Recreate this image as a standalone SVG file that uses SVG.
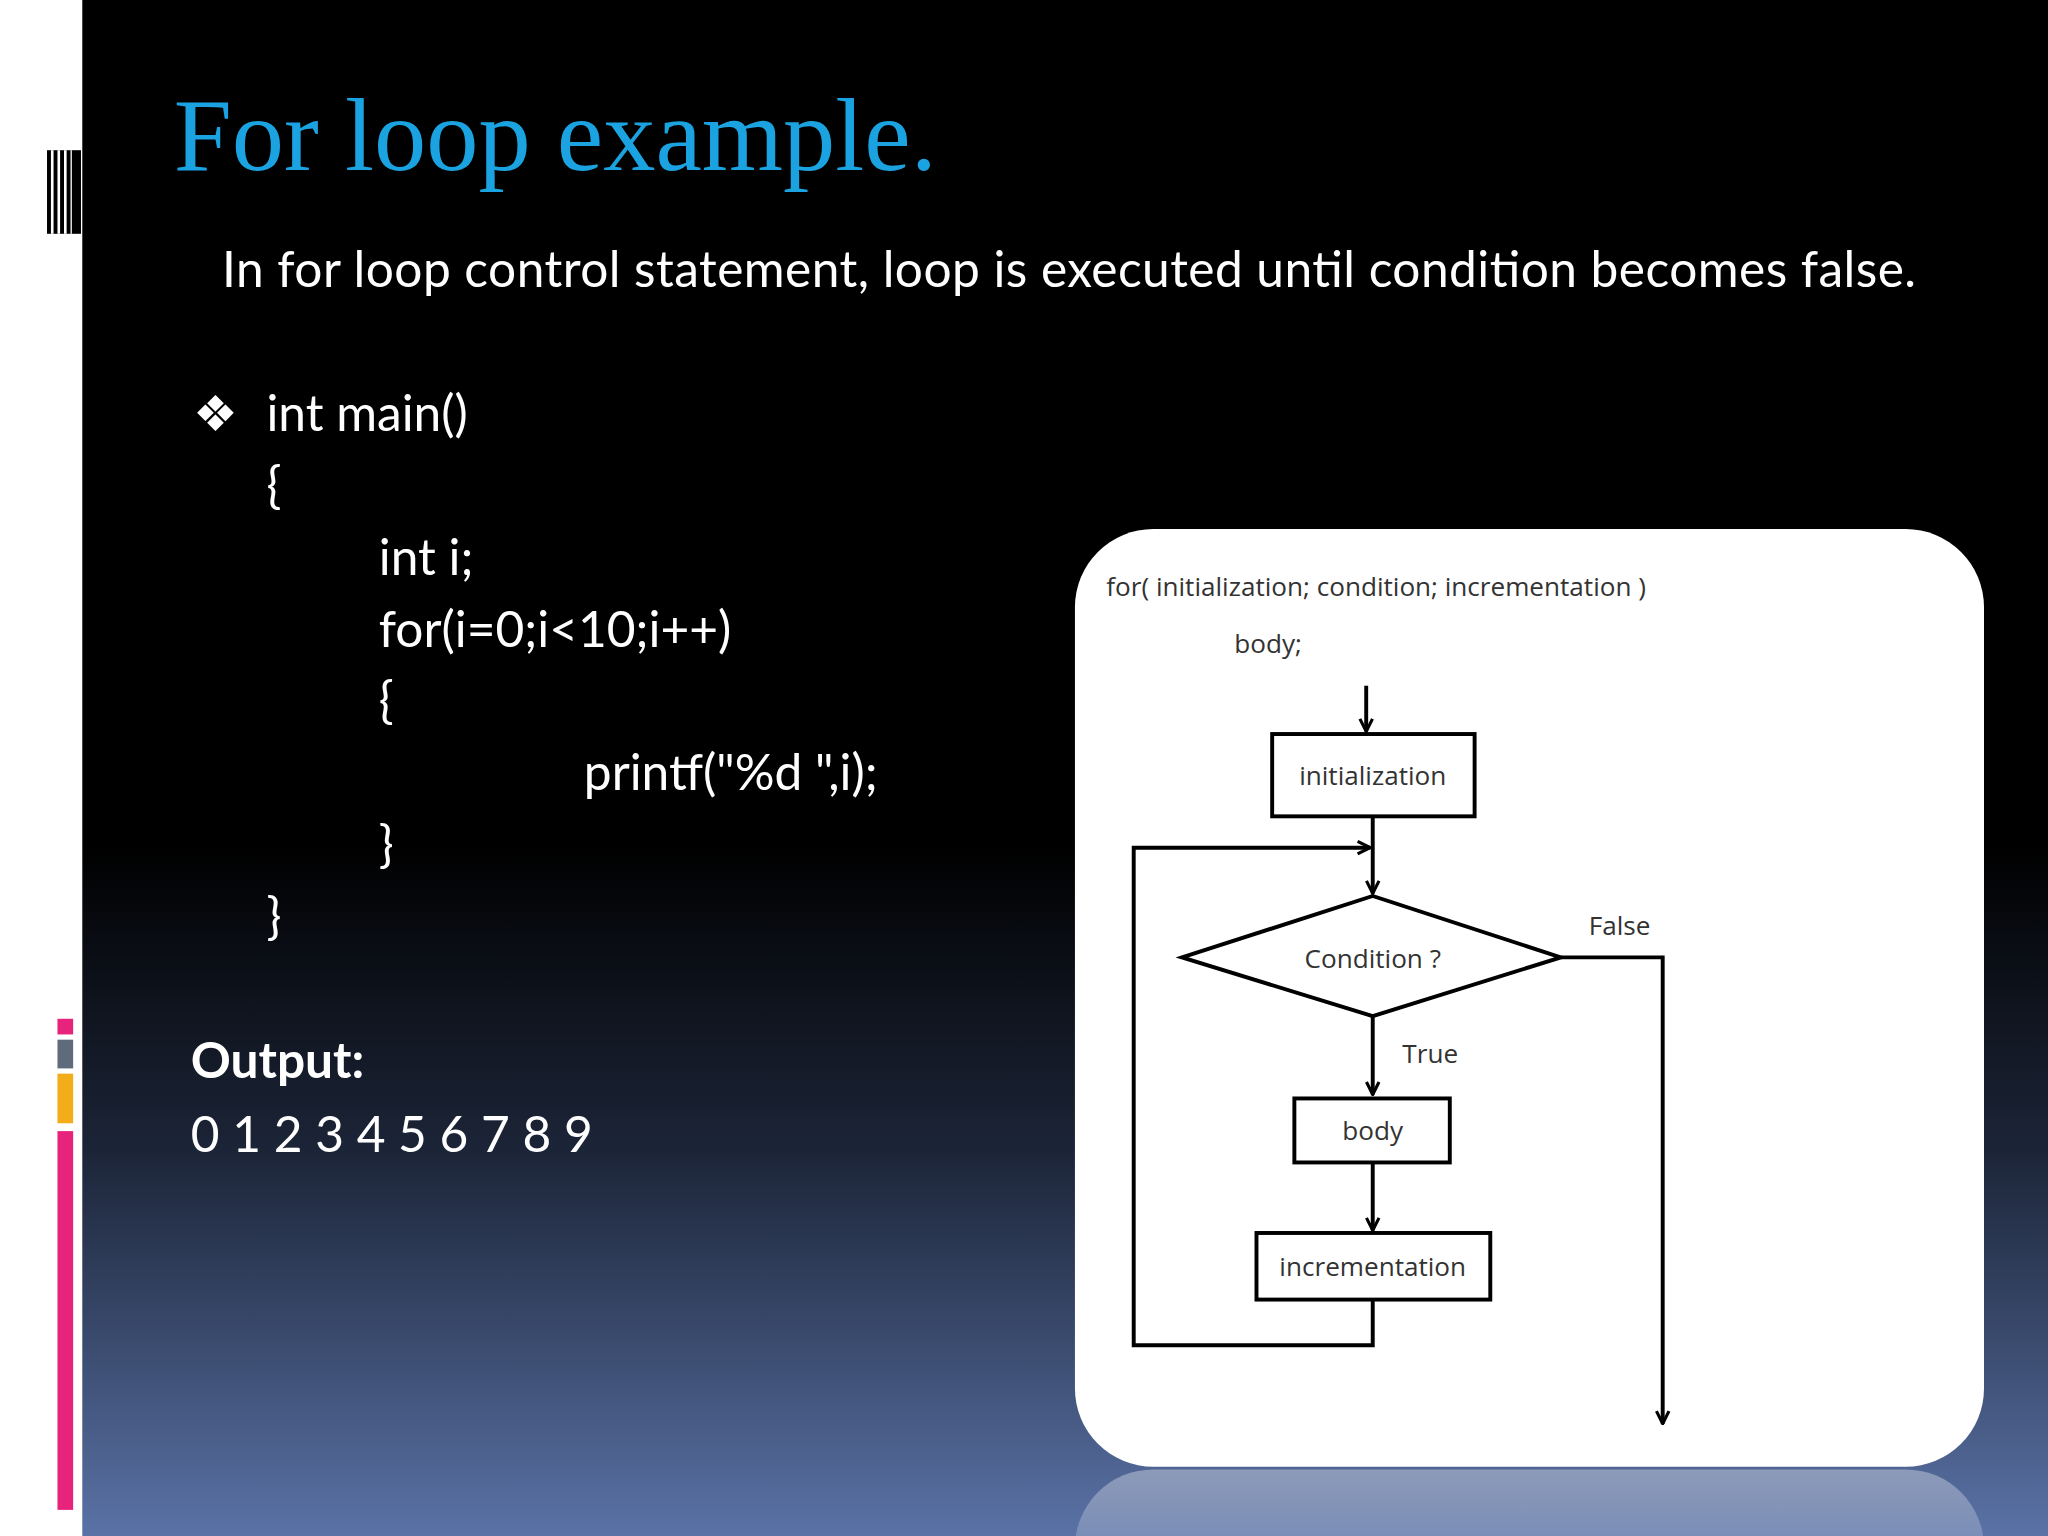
<svg xmlns="http://www.w3.org/2000/svg" width="2048" height="1536" viewBox="0 0 2048 1536">
<defs>
<linearGradient id="bg" x1="0" y1="0" x2="0" y2="1">
<stop offset="0" stop-color="#000"/><stop offset="0.55" stop-color="#000"/><stop offset="0.75" stop-color="#1c2538"/><stop offset="1" stop-color="#5a72a6"/>
</linearGradient>
<linearGradient id="refl" x1="0" y1="0" x2="0" y2="1">
<stop offset="0" stop-color="#fff" stop-opacity="0.35"/><stop offset="1" stop-color="#fff" stop-opacity="0"/>
</linearGradient>
<marker id="ah" viewBox="0 0 10 10" refX="9" refY="5" markerWidth="12" markerHeight="12" markerUnits="userSpaceOnUse" orient="auto"><path d="M1,1 L9,5 L1,9" fill="none" stroke="#000" stroke-width="2"/></marker>
<style>
.t{font-family:Lato,"Open Sans",sans-serif;fill:#fff;font-size:38px}
.f{font-family:"Open Sans",sans-serif;fill:#333;font-size:20px}
.ln{fill:none;stroke:#000;stroke-width:3}
</style>
</defs>
<g transform="scale(1.306122)">
<rect x="0" y="0" width="1568" height="1176" fill="url(#bg)"/>
<rect x="0" y="0" width="63" height="1176" fill="#fff"/>
<g fill="#000"><rect x="36" y="115" width="26" height="64"/></g>
<g fill="#fff"><rect x="39" y="115" width="2" height="64"/><rect x="44" y="115" width="2" height="64"/><rect x="49" y="115" width="2" height="64"/><rect x="54" y="115" width="1" height="64"/></g>
<rect x="44" y="780" width="12" height="12" fill="#e8237c"/>
<rect x="44" y="796" width="12" height="22" fill="#5f6b7a"/>
<rect x="44" y="822" width="12" height="38" fill="#f3ad1b"/>
<rect x="44" y="866" width="12" height="290" fill="#e8237c"/>
<text x="133" y="130" font-family="Liberation Serif,serif" font-size="80" fill="#1aa3e0">For loop example.</text>
<text class="t" x="170" y="220" textLength="1297">In for loop control statement, loop is executed until condition becomes false.</text>
<text class="t" x="148" y="330" font-size="28">❖</text>
<text class="t" x="204" y="330">int main()</text>
<text class="t" x="204" y="385">{</text>
<text class="t" x="290" y="440">int i;</text>
<text class="t" x="290" y="495">for(i=0;i&lt;10;i++)</text>
<text class="t" x="290" y="550">{</text>
<text class="t" x="447" y="605">printf("%d ",i);</text>
<text class="t" x="290" y="660">}</text>
<text class="t" x="204" y="715">}</text>
<text class="t" x="146" y="825" font-weight="bold">Output:</text>
<text class="t" x="146" y="882">0 1 2 3 4 5 6 7 8 9</text>
<rect x="823" y="1125" width="696" height="120" rx="60" fill="url(#refl)"/>
<rect x="823" y="405" width="696" height="718" rx="60" fill="#fff"/>
<g id="header"><text class="f" x="847" y="456" font-size="31" fill="#222">for( initialization; condition; incrementation )</text>
<text class="f" x="945" y="500" font-size="31" fill="#222">body;</text></g>
<g id="n_init"><rect class="ln" x="974" y="562" width="155" height="63"/><text class="f" x="1051" y="601" text-anchor="middle">initialization</text></g>
<g id="n_cond"><polygon class="ln" points="905,733 1051,686 1195,733 1051,778"/><text class="f" x="1051" y="741" text-anchor="middle">Condition ?</text></g>
<g id="n_body"><rect class="ln" x="991" y="841" width="119" height="49"/><text class="f" x="1051" y="873" text-anchor="middle">body</text></g>
<g id="n_inc"><rect class="ln" x="962" y="944" width="179" height="51"/><text class="f" x="1051" y="977" text-anchor="middle">incrementation</text></g>
<g id="connectors">
<line class="ln" x1="1046" y1="525" x2="1046" y2="560" marker-end="url(#ah)"/>
<line class="ln" x1="1051" y1="625" x2="1051" y2="684" marker-end="url(#ah)"/>
<polyline class="ln" points="1051,995 1051,1030 868,1030 868,649 1049,649" marker-end="url(#ah)"/>
<line class="ln" x1="1051" y1="778" x2="1051" y2="838" marker-end="url(#ah)"/>
<line class="ln" x1="1051" y1="890" x2="1051" y2="942" marker-end="url(#ah)"/>
<polyline class="ln" points="1195,733 1273,733 1273,1090" marker-end="url(#ah)"/>
<text class="f" x="1240" y="716" text-anchor="middle">False</text>
<text class="f" x="1095" y="814" text-anchor="middle">True</text>
</g>
</g>
</svg>
